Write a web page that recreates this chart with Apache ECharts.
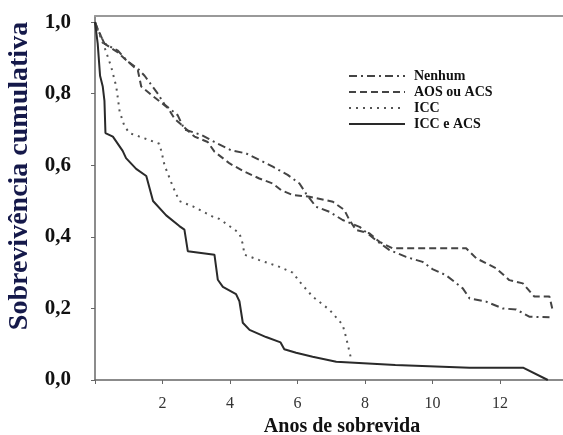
<!DOCTYPE html>
<html>
<head>
<meta charset="utf-8">
<script src="https://cdn.jsdelivr.net/npm/echarts@6/dist/echarts.min.js"></script>
<style>
  html, body { margin: 0; padding: 0; background: #fff; }
  #chart { width: 563px; height: 435px; }
</style>
</head>
<body>
<div id="chart"></div>
<script>
// curvas de sobrevida, [anos, proporção]
const nenhum = [
  [0, 1.0], [0.08, 0.98], [0.28, 0.94], [0.68, 0.92], [0.97, 0.89], [1.27, 0.87], [1.47, 0.85],
  [1.86, 0.80], [2.06, 0.77], [2.45, 0.74], [2.65, 0.70], [3.15, 0.685], [3.54, 0.665], [4.03, 0.642],
  [4.48, 0.633], [4.87, 0.615], [5.27, 0.596], [5.71, 0.573], [6.06, 0.549], [6.26, 0.52], [6.55, 0.484],
  [6.95, 0.47], [7.34, 0.447], [7.84, 0.428], [8.33, 0.39], [8.73, 0.363], [9.22, 0.344], [9.71, 0.33],
  [10.0, 0.31], [10.4, 0.293], [10.9, 0.256], [11.1, 0.228], [11.59, 0.219], [12.08, 0.20], [12.48, 0.197],
  [12.87, 0.177], [13.47, 0.175]
];
const aosAcs = [
  [0, 1.0], [0.08, 0.98], [0.28, 0.94], [0.68, 0.915], [0.97, 0.89], [1.27, 0.865], [1.37, 0.82],
  [1.76, 0.79], [2.16, 0.76], [2.36, 0.73], [2.95, 0.68], [3.34, 0.665], [3.54, 0.638], [3.99, 0.605],
  [4.43, 0.582], [4.87, 0.563], [5.27, 0.549], [5.52, 0.53], [5.86, 0.517], [6.36, 0.512], [7.05, 0.498],
  [7.39, 0.475], [7.54, 0.447], [7.74, 0.419], [8.13, 0.41], [8.43, 0.386], [8.82, 0.368], [11.0, 0.368],
  [11.3, 0.34], [11.89, 0.312], [12.28, 0.279], [12.68, 0.27], [13.02, 0.233], [13.47, 0.233], [13.56, 0.196]
];
const icc = [
  [0, 1.0], [0.03, 0.99], [0.28, 0.93], [0.48, 0.875], [0.63, 0.82], [0.73, 0.75], [0.87, 0.71],
  [1.02, 0.69], [1.32, 0.68], [1.91, 0.66], [1.99, 0.63], [2.06, 0.60], [2.31, 0.54], [2.5, 0.50],
  [2.9, 0.485], [3.5, 0.456], [3.69, 0.45], [4.28, 0.41], [4.38, 0.38], [4.43, 0.35], [4.87, 0.335],
  [5.47, 0.316], [5.86, 0.30], [6.06, 0.275], [6.45, 0.233], [6.95, 0.196], [7.34, 0.154], [7.44, 0.12],
  [7.6, 0.055]
];
const iccAcs = [
  [0, 1.0], [0.08, 0.94], [0.15, 0.85], [0.23, 0.82], [0.28, 0.78], [0.31, 0.69], [0.53, 0.68],
  [0.82, 0.64], [0.92, 0.62], [1.22, 0.59], [1.52, 0.57], [1.72, 0.50], [2.11, 0.46], [2.5, 0.43],
  [2.65, 0.42], [2.75, 0.36], [3.54, 0.35], [3.64, 0.28], [3.79, 0.26], [4.18, 0.24], [4.28, 0.22],
  [4.38, 0.16], [4.58, 0.14], [5.07, 0.12], [5.5, 0.105], [5.61, 0.086], [5.96, 0.076], [6.45, 0.065],
  [7.15, 0.051], [8.9, 0.042], [11.1, 0.034], [12.7, 0.034], [13.42, 0.0]
];
const xTicks = [0, 2, 4, 6, 8, 10, 12];
const xLabels = [2, 4, 6, 8, 10, 12];
const yTicks = [0, 0.2, 0.4, 0.6, 0.8, 1.0];

const serif = "'Liberation Serif', 'Times New Roman', serif";

const chart = echarts.init(document.getElementById('chart'));

function line(name, data, type, color, width) {
  return {
    name: name,
    type: 'line',
    data: data,
    symbol: 'none',
    silent: true,
    color: color,
    itemStyle: { color: color },
    lineStyle: { type: type, color: color, width: width }
  };
}

const option = {
  backgroundColor: '#fff',
  animation: false,
  grid: { left: 95, right: 0, top: 16, bottom: 55, outerBoundsMode: 'none' },
  legend: {
    orient: 'vertical',
    left: 343,
    top: 64,
    itemWidth: 56,
    itemHeight: 14,
    itemGap: 2,
    itemStyle: { opacity: 0 },
    textStyle: { fontFamily: serif, fontWeight: 'bold', fontSize: 14, color: '#111', padding: [0, 0, 0, 4] },
    data: ['Nenhum', 'AOS ou ACS', 'ICC', 'ICC e ACS']
  },
  xAxis: [
    {
      type: 'value',
      min: 0,
      max: 13.87,
      offset: 4,
      name: 'Anos de sobrevida',
      nameLocation: 'middle',
      nameGap: 33,
      nameTextStyle: { fontFamily: serif, fontWeight: 'bold', fontSize: 20, color: '#111', padding: [0, 0, 0, 26] },
      axisLine: { lineStyle: { color: '#666', width: 1.5 } },
      axisTick: { customValues: xTicks, length: 4, lineStyle: { color: '#666' } },
      axisLabel: { customValues: xLabels, fontFamily: serif, fontSize: 16, color: '#333', margin: 12 },
      splitLine: { show: false }
    },
    {
      type: 'value',
      position: 'top',
      min: 0,
      max: 13.87,
      axisLine: { show: true, lineStyle: { color: '#999', width: 2 } },
      axisTick: { show: false },
      axisLabel: { show: false },
      splitLine: { show: false }
    }
  ],
  yAxis: {
    type: 'value',
    min: 0,
    max: 1.017,
    offset: 3,
    name: 'Sobrevivência cumulativa',
    nameLocation: 'middle',
    nameGap: 56,
    nameTextStyle: { fontFamily: serif, fontWeight: 'bold', fontSize: 28, color: '#15194a', padding: [0, 0, 0, 44] },
    axisLine: { show: true, lineStyle: { color: '#666', width: 1.5 } },
    axisTick: { show: true, customValues: yTicks, length: 4, lineStyle: { color: '#666' } },
    axisLabel: {
      customValues: yTicks,
      fontFamily: serif,
      fontWeight: 'bold',
      fontSize: 21,
      color: '#111',
      margin: 21,
      formatter: function (v) { return v.toFixed(1).replace('.', ','); }
    },
    splitLine: { show: false }
  },
  series: [
    line('Nenhum', nenhum, [8, 4, 2, 4], '#444', 2),
    line('AOS ou ACS', aosAcs, [7, 4], '#444', 2),
    line('ICC', icc, [2, 5], '#555', 2),
    line('ICC e ACS', iccAcs, 'solid', '#2a2a2a', 2)
  ]
};

chart.setOption(option);
</script>
</body>
</html>
